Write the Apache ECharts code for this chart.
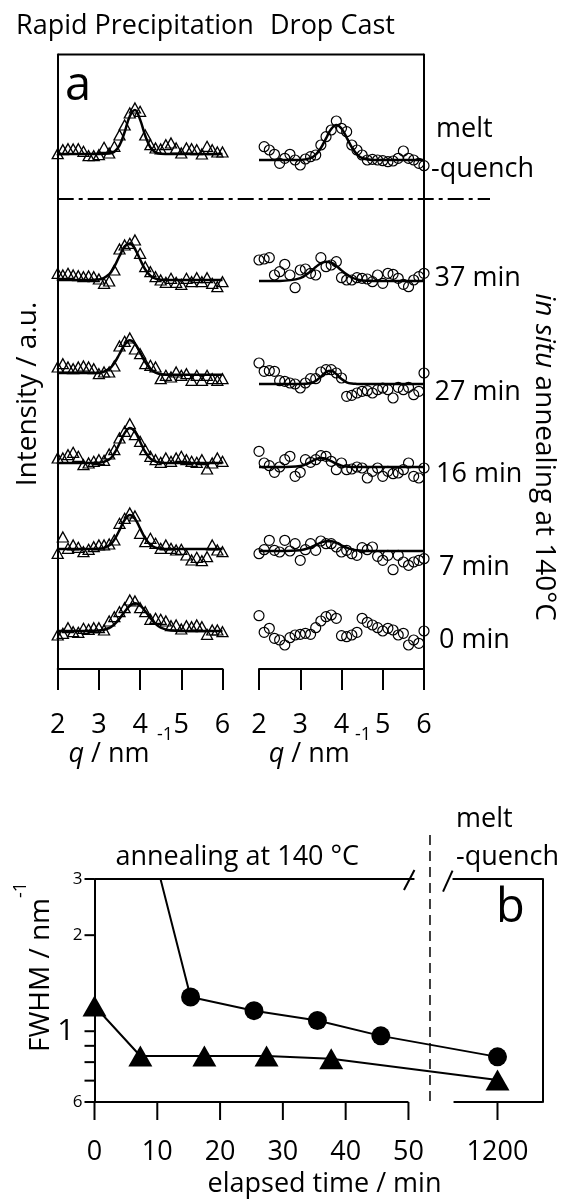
<!DOCTYPE html>
<html><head><meta charset="utf-8">
<script src="https://cdn.jsdelivr.net/npm/echarts@6/dist/echarts.min.js"></script>
<style>html,body{margin:0;padding:0;background:#fff}#c{width:564px;height:1200px}</style>
</head><body><div id="c"></div>
<script>
// ================= DATA =================
// Panel a: scattering vector q (nm^-1) of measured points
const qPoints = [2,2.125,2.25,2.375,2.5,2.625,2.75,2.875,3,3.125,3.25,3.375,3.5,3.625,3.75,3.875,4,4.125,4.25,4.375,4.5,4.625,4.75,4.875,5,5.125,5.25,5.375,5.5,5.625,5.75,5.875,6];
// q positions of the fit curves
const fitQ = [2,2.5,3,3.25,3.375,3.5,3.625,3.75,3.875,4,4.125,4.25,4.375,4.5,4.75,5,5.5,6];
// rows top to bottom
const rowNames = ['melt-quench','37 min','27 min','16 min','7 min','0 min'];
// vertical offsets of each profile (a.u.)
const offsetTri  = [515, 389, 296, 206, 120, 38];
const offsetCirc = [509, 388, 285, 202, 118, 34];

// Rapid Precipitation (triangles), intensity relative to offset (a.u.)
const triMelt = [0.3,4.3,5.3,5,5.3,2.7,-1.7,-1.7,-0.7,6.7,1,7.7,19,29,41,46,42.7,19,9.3,6,5,9.3,11,6,1,6,5.3,4.3,0,7.7,4.3,2,2];
const tri37   = [6.7,5,6.7,5,4.3,3.3,4,3.3,1,-3.3,-1,10,31,35,36.7,40,26.7,13.3,8.3,3.3,0,-2.3,1.7,-2.3,-4.3,1.7,-1.7,2.3,-1.7,2.3,-3.3,-6.7,-1.7];
const tri27   = [6,9.3,6,4.3,6,7,6,4.3,-0.7,1,1,7,27,31.7,35,24,19.3,9.3,7.7,6,-5.7,-2.3,-4,1,-2.3,-0.7,-7.3,-2.3,-7.3,-2.3,-5.7,-7.3,-5.7];
const tri16   = [5,5,8.3,10.7,6.7,-1.7,0,1.7,3.3,2.7,9,13.3,25,31.7,39.3,28.3,21.7,13.3,6.7,3.3,0.7,5,1.7,5,6.7,3.3,1.7,0.7,3.3,-6,0,5,1.7];
const tri7    = [-4.3,12,0.7,4,1.7,-2.7,-0.3,2.3,4,4,5,9,25.7,30.7,36,33,15.7,7.3,10.7,5.7,0.7,4,0.7,-1,-0.3,-6,-11,-8.3,-11.7,-7.7,4,-1,-2.7];
const tri0    = [-4,-2.3,3.3,-0.7,-1.3,2.7,1.7,3.3,3.3,1,10,14.3,19.3,23.3,31,30,23.3,19.3,11.7,12.7,11.7,10,5.3,6,2,5.3,4.3,6,4.3,-3.3,1,1,-0.7];

// Drop Cast (circles)
const circMelt = [null,13.3,10,5.7,-3.3,1.7,5.7,0,-5,1,3.3,5,15,23.3,30,39,31.7,28.3,15,10,5,0,0.7,0,-0.7,-1.7,-1,1.7,9,1.7,0,-3.3,-5.7];
const circ37   = [21,22,23.3,6,9.3,16.7,6,-6.7,11,12,7.7,6,23.3,14.3,16,19.3,3.3,1,1,3.3,2.7,2,-0.7,6,-2.3,7.7,6.7,2.7,-3.3,-5.7,1,4.3,7.7];
const circ27   = [21,12.7,13.3,12.7,3.3,2.7,1,0,-4,1,5.3,5.3,12,14.3,14.3,11,6,-12.3,-11.3,-9,-7.3,-6.7,-9,-5.7,-4,-5.7,-14,-3.3,-5.7,-3.3,-10.7,-7.3,11];
const circ16   = [15.7,4,1.3,-5.3,0,7.3,10.7,-9.3,-5.3,7.3,4.7,7.3,11.3,10.7,5.7,-2.7,4,-2.7,-2,0,-1,-11,-4.3,-1,-9.3,-4.3,-6.7,-6,-2.7,4,-9.3,-11,-1];
const circ7    = [-2.7,1.3,10.7,0.7,-1,10.7,0,7.3,-9.3,1.3,7.3,0.7,10,7.3,7.3,4,-1,0.7,-2.7,-4.3,3.3,1.3,4,-5.3,-9.3,-4.3,-18.7,-4.3,-11,-14.3,-11,-9.3,-7.7];
const circ0    = [19.3,2.7,6.7,-3.3,-5,-10,-2.7,0,0.7,1.7,0.7,7.3,14,18.3,20,16.7,-0.7,-1.7,0,2.7,16.7,12.7,10,7.3,4,6.7,5,0,1.7,-10,-5,-8.3,4];

// fit curves
const fitTriMelt = [0,0,0,0.4,2.3,8.7,22,37.8,44,34.4,18.3,6.6,1.6,0.3,0,0,0,0];
const fitTri37   = [0,0,0.5,5.8,13.4,24,33.6,36.6,31,20.5,10.5,4.2,1.3,0.3,0,0,0,0];
const fitTri27   = [0,0,0.3,4.1,10,19,28.3,32.7,29.4,20.6,10.8,4,0.3,-1.2,-1.7,-1.7,-1.7,-1.7];
const fitTri16   = [0,0,0.2,3.6,9.7,19.5,29.9,35,31.2,21.2,11,4.4,1.3,0.3,0,0,0,0];
const fitTri7    = [0,0,0.2,3.5,9.4,18.9,29,34,30.3,20.6,10.7,4.3,1.3,0.3,0,0,0,0];
const fitTri0    = [0,0,0.4,3,6.7,12.4,19.3,25.2,27.7,25.6,19.8,12.9,7.1,3.3,0.4,0,0,0];
const fitCircMelt = [0,0,0.1,1.9,5.3,12,21.6,30.9,35,31.5,22.4,12.7,5.7,2,0.1,0,0,0];
const fitCirc37   = [0,0.1,2.9,9.6,14,17.6,19.3,18.3,15,10.6,6.6,3.5,1.6,0.6,0.1,0,0,0];
const fitCirc27   = [0,0,0,0.8,3,7.3,11.9,13.2,9.9,5,1.7,0.4,0.1,0,0,0,0,0];
const fitCirc16   = [0,0,1,5,7.6,9,8.2,5.9,3.3,1.4,0.5,0.1,0,0,0,0,0,0];
const fitCirc7    = [0,0,0.8,3.6,6,8.4,9.8,9.7,8.1,5.7,3.3,1.6,0.7,0.2,0,0,0,0];
const fitCirc0    = null;

const triRows = [triMelt, tri37, tri27, tri16, tri7, tri0];
const circRows = [circMelt, circ37, circ27, circ16, circ7, circ0];
const fitTriRows = [fitTriMelt, fitTri37, fitTri27, fitTri16, fitTri7, fitTri0];
const fitCircRows = [fitCircMelt, fitCirc37, fitCirc27, fitCirc16, fitCirc7, fitCirc0];

// Panel b: FWHM vs elapsed time
const tDrop = [5, 15.3, 25.4, 35.5, 45.6, 1200];
const fwhmDrop = [8.0, 1.28, 1.16, 1.08, 0.967, 0.831];
const tRapid = [0, 7.3, 17.5, 27.4, 37.7, 1200];
const fwhmRapid = [1.2, 0.836, 0.836, 0.836, 0.82, 0.703];
const bXTicks = [0, 10, 20, 30, 40, 50, 1200];
const bYTicks = [0.6, 0.7, 0.8, 0.9, 1, 2, 3];
const bYTickLabels = ['6', '', '', '', '1', '2', '3'];
const aXTicksInterval = 1;

// ================= LAYOUT =================
const FONT = 'Open Sans';
const A = {top: 54.5, bottom: 669, l1: 57.7, r1: 222.5, l2: 259, r2: 424, yMax: 614.5};
const B = {left: 94.5, right: 542.7, top: 879, bottom: 1102};
const BREAK = {start: 50, end: 1193};

const chart = echarts.init(document.getElementById('c'), null, {renderer: 'canvas'});

const blackLine = {color: '#000', width: 2};
function aXAxis(grid) {
  return {gridIndex: grid, type: 'value', min: 2, max: 6, interval: aXTicksInterval, position: 'bottom',
    axisLine: {show: true, onZero: false, lineStyle: blackLine},
    axisTick: {show: true, inside: false, length: 21, lineStyle: blackLine},
    axisLabel: {show: true, margin: 43, color: '#000', fontSize: 27, fontFamily: FONT},
    splitLine: {show: false}};
}
function aYAxis(grid, pos) {
  return {gridIndex: grid, type: 'value', min: 0, max: A.yMax, position: pos,
    axisLine: {show: true, onZero: false, lineStyle: blackLine},
    axisTick: {show: false}, axisLabel: {show: false}, splitLine: {show: false}};
}
function bYAxis(pos) {
  return {gridIndex: 2, type: 'log', logBase: 10, min: 0.6, max: 3, position: pos,
    axisLine: {show: true, onZero: false, lineStyle: blackLine},
    axisTick: {show: false}, axisLabel: {show: false}, splitLine: {show: false}, minorTick: {show: false}};
}

const series = [];
for (let r = 0; r < rowNames.length; r++) {
  const tri = [], circ = [];
  qPoints.forEach((q, i) => {
    if (triRows[r][i] != null) tri.push([q, offsetTri[r] + triRows[r][i]]);
    if (circRows[r][i] != null) circ.push([q, offsetCirc[r] + circRows[r][i]]);
  });
  series.push({type: 'scatter', name: 'RP ' + rowNames[r], xAxisIndex: 0, yAxisIndex: 0, data: tri,
    symbol: 'triangle', symbolSize: [11, 10], silent: true, z: 2,
    itemStyle: {color: 'rgba(255,255,255,0)', borderColor: '#000', borderWidth: 1.3, opacity: 1}});
  series.push({type: 'scatter', name: 'DC ' + rowNames[r], xAxisIndex: 1, yAxisIndex: 1, data: circ,
    symbol: 'circle', symbolSize: 10, silent: true, z: 2,
    itemStyle: {color: 'rgba(255,255,255,0)', borderColor: '#000', borderWidth: 1.2, opacity: 1}});
  if (fitTriRows[r]) series.push({type: 'line', xAxisIndex: 0, yAxisIndex: 0, silent: true, z: 3,
    data: fitQ.map((q, j) => [q, offsetTri[r] + fitTriRows[r][j]]), smooth: 0.4, showSymbol: false, symbol: 'none',
    lineStyle: {color: '#000', width: 2.5}});
  if (fitCircRows[r]) series.push({type: 'line', xAxisIndex: 1, yAxisIndex: 1, silent: true, z: 3,
    data: fitQ.map((q, j) => [q, offsetCirc[r] + fitCircRows[r][j]]), smooth: 0.4, showSymbol: false, symbol: 'none',
    lineStyle: {color: '#000', width: 2.5}});
}
// panel b data
series.push({type: 'line', name: 'Drop Cast', xAxisIndex: 2, yAxisIndex: 2, data: tDrop.map((t, i) => [t, fwhmDrop[i]]),
  symbol: 'circle', symbolSize: 19, showAllSymbol: true, itemStyle: {color: '#000'}, lineStyle: {color: '#000', width: 2}, z: 3, silent: true});
series.push({type: 'line', name: 'Rapid Precipitation', xAxisIndex: 2, yAxisIndex: 2, data: tRapid.map((t, i) => [t, fwhmRapid[i]]),
  symbol: 'triangle', symbolSize: [24, 21], showAllSymbol: true, itemStyle: {color: '#000'}, lineStyle: {color: '#000', width: 2}, z: 3, silent: true});
// panel b y ticks + labels
series.push({type: 'scatter', xAxisIndex: 2, yAxisIndex: 2, clip: false, silent: true, z: 4,
  symbol: 'rect', symbolSize: [10, 2], symbolOffset: [-5, 0], itemStyle: {color: '#000', opacity: 1},
  data: bYTicks.map((v, i) => ({value: [0, v], label: bYTickLabels[i] === '1' ? {fontSize: 30, distance: 10} : {}})),
  label: {show: true, position: 'left', distance: 2, color: '#000', fontSize: 17, fontFamily: FONT,
    formatter: p => bYTickLabels[p.dataIndex]}});
// panel b x ticks + labels
series.push({type: 'scatter', xAxisIndex: 2, yAxisIndex: 2, clip: false, silent: true, z: 4,
  symbol: 'rect', symbolSize: [2, 18], symbolOffset: [0, 9], itemStyle: {color: '#000', opacity: 1},
  data: bXTicks.map(v => [v, 0.6]),
  label: {show: true, position: 'bottom', distance: 19, color: '#000', fontSize: 27, fontFamily: FONT,
    formatter: p => String(bXTicks[p.dataIndex])}});

const option = {
  animation: false,
  backgroundColor: '#fff',
  textStyle: {fontFamily: FONT},
  grid: [
    {left: A.l1, top: A.top, width: A.r1 - A.l1, height: A.bottom - A.top, outerBoundsMode: 'none'},
    {left: A.l2, top: A.top, width: A.r2 - A.l2, height: A.bottom - A.top, outerBoundsMode: 'none'},
    {left: B.left, top: B.top, width: B.right - B.left, height: B.bottom - B.top, outerBoundsMode: 'none'}
  ],
  xAxis: [aXAxis(0), aXAxis(1), {
    gridIndex: 2, type: 'value', min: 0, max: 1207.2,
    breaks: [{start: BREAK.start, end: BREAK.end, gap: '10.06%'}],
    breakArea: {show: false},
    axisLine: {show: false}, axisTick: {show: false}, axisLabel: {show: false}, splitLine: {show: false}
  }],
  yAxis: [aYAxis(0, 'left'), aYAxis(1, 'right'), bYAxis('left'), bYAxis('right')],
  series: series
};
chart.setOption(option);

// ---------- annotations & frame pieces ----------
const px = v => chart.convertToPixel({xAxisIndex: 2}, v);
const p50 = px(BREAK.start), pEnd = px(BREAK.end);
const ln = (x1, y1, x2, y2, extra) => Object.assign({type: 'line', silent: true,
  shape: {x1, y1, x2, y2}, style: Object.assign({stroke: '#000', lineWidth: 2}, extra || {})});
const tx = (text, x, y, size, opts) => Object.assign({type: 'text', silent: true, x, y,
  style: Object.assign({text, fill: '#000', fontSize: size, fontFamily: FONT, align: 'left', verticalAlign: 'middle'}, (opts && opts.style) || {})},
  (opts && opts.el) || {});
const italic = size => ({i: {fontStyle: 'italic', fontSize: size, fontFamily: FONT, fill: '#000'}});

const graphic = [
  // panel a frame top + separator
  ln(A.l1, A.top, A.r2, A.top),
  ln(A.l1, 199, 490, 199, {lineDash: [16, 5, 4, 5]}),
  // panel b frame pieces
  ln(B.left, B.bottom, p50, B.bottom),
  ln(pEnd, B.bottom, B.right, B.bottom),
  ln(B.left, B.top, p50 + 6, B.top),
  ln(p50 - 4.5, B.top + 11, p50 + 6, B.top - 9),
  ln(pEnd - 10.5, B.top + 12.7, pEnd - 1, B.top - 8.3),
  ln(pEnd - 1, B.top, B.right, B.top),
  ln((p50 + pEnd) / 2 - 1, 835, (p50 + pEnd) / 2 - 1, B.bottom, {lineWidth: 1.5, lineDash: [10, 6]}),
  // titles
  tx('Rapid Precipitation', 16, 26, 27),
  tx('Drop Cast', 270, 26, 27),
  tx('a', 65, 87, 47),
  tx('b', 496, 909, 47),
  // row labels
  tx('melt', 436, 129, 27),
  tx('-quench', 431, 169, 27),
  tx('37 min', 434.5, 278, 27),
  tx('27 min', 434.5, 392, 27),
  tx('16 min', 436, 474, 27),
  tx('7 min', 439, 567, 27),
  tx('0 min', 439, 640, 27),
  // axis titles panel a
  tx('{i|q} / nm', 68.5, 754, 27, {style: {rich: italic(27)}}),
  tx('-1', 157, 735, 18),
  tx('{i|q} / nm', 268.7, 754, 27, {style: {rich: italic(27)}}),
  tx('-1', 355, 735, 18),
  tx('Intensity / a.u.', 28, 394, 28, {style: {align: 'center'}, el: {rotation: Math.PI / 2}}),
  tx('{i|in situ} annealing at 140°C', 543.5, 457, 28, {style: {align: 'center', rich: italic(28)}, el: {rotation: -Math.PI / 2}}),
  // panel b texts
  tx('melt', 456, 819, 27),
  tx('-quench', 456, 857, 27),
  tx('annealing at 140 °C', 115.4, 857, 27),
  tx('FWHM / nm', 40.8, 975, 28, {style: {align: 'center'}, el: {rotation: Math.PI / 2}}),
  tx('-1', 21, 890, 18, {style: {align: 'center'}, el: {rotation: Math.PI / 2}}),
  tx('elapsed time / min', 324.5, 1184, 27, {style: {align: 'center'}})
];
chart.setOption({graphic: graphic});
</script>
</body></html>
